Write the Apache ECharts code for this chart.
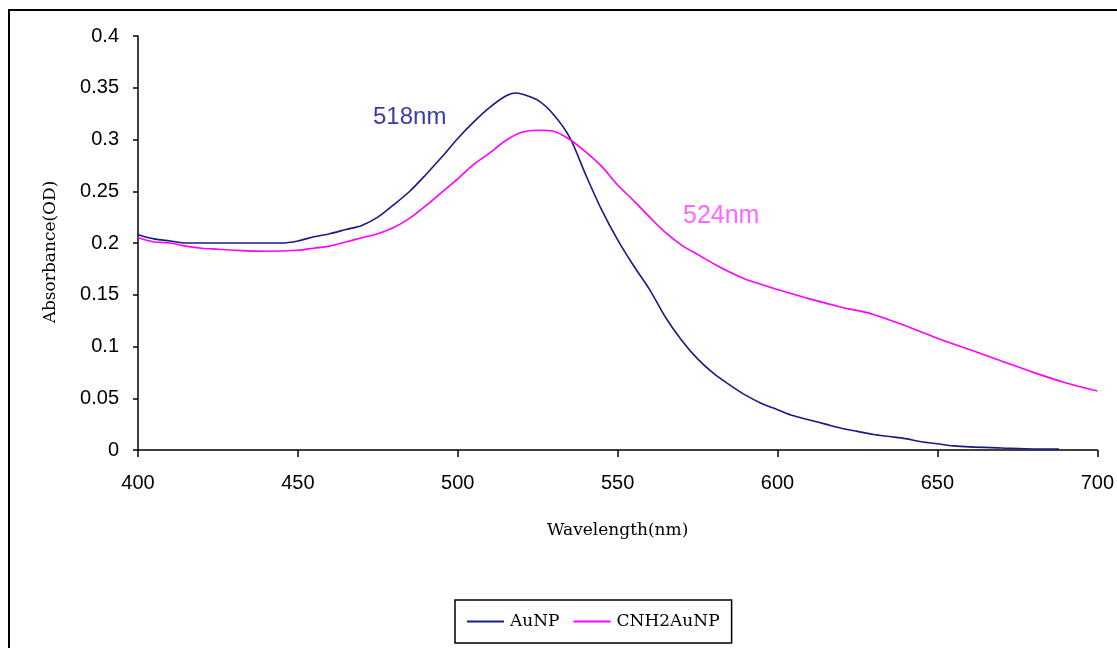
<!DOCTYPE html>
<html>
<head>
<meta charset="utf-8">
<script src="https://cdn.jsdelivr.net/npm/echarts@6/dist/echarts.min.js"></script>
<style>
html,body{margin:0;padding:0;background:#fff;}
#chart{width:1117px;height:648px;}
</style>
</head>
<body>
<div id="chart"></div>
<script>
// Data
const seriesNames = ['AuNP', 'CNH2AuNP'];
const auWavelength = [400,405,410,415,420,430,440,445,450,455,460,465,470,475,480,485,490,495,500,505,510,515,518,520,525,530,535,540,545,550,555,560,565,570,575,580,585,590,595,600,605,610,615,620,625,630,635,640,645,650,655,660,670,680,688];
const auAbs = [0.208,0.204,0.202,0.200,0.200,0.200,0.200,0.200,0.202,0.206,0.209,0.213,0.217,0.225,0.237,0.250,0.266,0.283,0.301,0.317,0.331,0.342,0.345,0.344,0.338,0.324,0.302,0.266,0.232,0.203,0.178,0.155,0.128,0.106,0.088,0.074,0.063,0.053,0.045,0.039,0.033,0.029,0.025,0.021,0.018,0.015,0.013,0.011,0.008,0.006,0.004,0.003,0.002,0.001,0.001];
const cnWavelength = [400,405,410,415,420,425,430,440,450,455,460,465,470,475,480,485,490,495,500,505,510,515,520,525,530,535,540,545,550,555,560,565,570,575,580,585,590,595,600,610,620,630,640,650,660,670,680,690,700];
const cnAbs = [0.205,0.201,0.200,0.197,0.195,0.194,0.193,0.192,0.193,0.195,0.197,0.201,0.205,0.209,0.215,0.224,0.236,0.249,0.262,0.276,0.287,0.299,0.307,0.309,0.308,0.300,0.288,0.274,0.256,0.241,0.225,0.210,0.198,0.189,0.180,0.172,0.165,0.160,0.155,0.146,0.138,0.131,0.120,0.108,0.097,0.086,0.075,0.065,0.057];
const peakLabels = ['518nm', '524nm'];

const chart = echarts.init(document.getElementById('chart'));
const pair = (xs, ys) => xs.map((x, i) => [x, ys[i]]);
const serifFont = '"DejaVu Serif", "Liberation Serif", serif';
const sansFont = '"Liberation Sans", Arial, sans-serif';

chart.setOption({
  animation: false,
  backgroundColor: '#fff',
  grid: {left: 138, right: 19, top: 36, bottom: 198, containLabel: false},
  xAxis: {
    type: 'value', min: 400, max: 700, interval: 50,
    name: 'Wavelength(nm)', nameLocation: 'middle', nameGap: 72,
    nameTextStyle: {fontFamily: serifFont, fontSize: 17, color: '#000'},
    axisLine: {lineStyle: {color: '#000', width: 1.5}},
    axisTick: {show: true, length: 7, lineStyle: {color: '#000', width: 1.5}},
    axisLabel: {fontFamily: sansFont, fontSize: 20, color: '#000', margin: 23},
    splitLine: {show: false}
  },
  yAxis: {
    type: 'value', min: 0, max: 0.4, interval: 0.05,
    name: 'Absorbance(OD)', nameLocation: 'middle', nameGap: 79, nameRotate: 90,
    nameTextStyle: {fontFamily: serifFont, fontSize: 17, color: '#000', padding: [0, 18, 0, 0]},
    axisLine: {show: true, lineStyle: {color: '#000', width: 1.5}},
    axisTick: {show: true, length: 5, lineStyle: {color: '#000', width: 1.5}},
    axisLabel: {fontFamily: sansFont, fontSize: 20, color: '#000', margin: 19},
    splitLine: {show: false}
  },
  legend: {
    left: 455, top: 600,
    orient: 'horizontal',
    icon: 'rect',
    itemWidth: 37, itemHeight: 2, itemGap: 14,
    padding: [13, 12],
    borderColor: '#000', borderWidth: 1.5,
    textStyle: {fontFamily: serifFont, fontSize: 17, color: '#000', padding: [0,0,0,1]},
    data: seriesNames
  },
  series: [
    {
      name: seriesNames[0], type: 'line', data: pair(auWavelength, auAbs),
      symbol: 'none', smooth: 0.3,
      lineStyle: {color: '#1a1a85', width: 1.6}, itemStyle: {color: '#1a1a85'}
    },
    {
      name: seriesNames[1], type: 'line', data: pair(cnWavelength, cnAbs),
      symbol: 'none', smooth: 0.3,
      lineStyle: {color: '#ff00ff', width: 1.6}, itemStyle: {color: '#ff00ff'}
    }
  ],
  graphic: [
    {type: 'rect', silent: true, shape: {x: 9, y: 10, width: 1200, height: 700},
     style: {fill: 'none', stroke: '#000', lineWidth: 2}},
    {type: 'text', left: 373, top: 105,
     style: {text: peakLabels[0], fill: '#3c3ca0', font: '24px "Liberation Sans", Arial, sans-serif'}},
    {type: 'text', left: 683, top: 204,
     style: {text: peakLabels[1], fill: '#ff66ff', font: '25px "Liberation Sans", Arial, sans-serif'}}
  ]
});
</script>
</body>
</html>
